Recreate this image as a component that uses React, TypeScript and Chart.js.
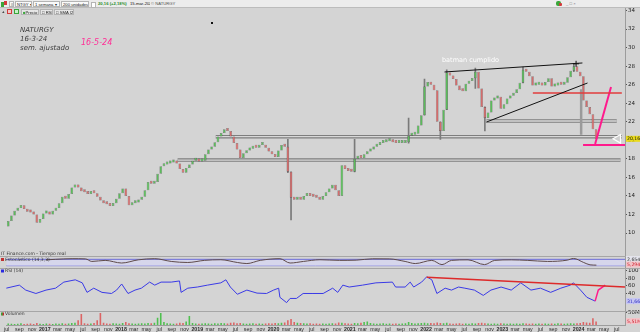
import React, { useEffect, useRef } from 'react';
import { Chart, registerables } from 'chart.js';

Chart.register(...registerables);

const FONT = '"DejaVu Sans", "Liberation Sans", sans-serif';
const AXIS_FONT = '"Liberation Sans", Arial, sans-serif';

// month index: 0 = ene-2016
const FIRST_MONTH = 6; // jul-2016, first half-month candle
const X_MIN = 5.93;
const X_MAX = 103.3;
const MONTH_NAMES = ['ene', 'feb', 'mar', 'abr', 'may', 'jun', 'jul', 'ago', 'sep', 'oct', 'nov', 'dic'];
const monthTicks = [6, 8, 10, 12, 14, 16, 18, 20, 22, 24, 26, 28, 30, 32, 34, 36, 38, 40, 42, 44, 46, 48, 50, 52, 54, 56, 58, 60, 62, 64, 66, 68, 70, 72, 74, 76, 78, 80, 82, 84, 86, 88, 90, 92, 94, 96, 98, 100, 102];
const priceTicks = [10, 12, 14, 16, 18, 20, 22, 24, 26, 28, 30, 32, 34];
const rsiTicks = [40, 60, 80, 100];
const volTicks = [50];

// semi-monthly closes (adjusted), jul-2016 .. mar-2024
const firstOpen = 10.7;
const closes = [
  11.3, 11.9, 12.4, 12.7, 13.0, 12.6, 12.3, 12.2, 12.0, 11.1,
  11.5, 12.1, 12.2, 12.0, 12.4, 12.7, 13.2, 13.9, 13.7, 14.2,
  14.9, 15.1, 14.9, 14.5, 14.4, 14.2, 14.4, 14.3, 13.9, 13.5,
  13.2, 13.1, 12.9, 13.2, 13.7, 14.3, 14.8, 14.0, 13.0, 13.2,
  13.3, 13.6, 13.9, 14.6, 15.5, 15.3, 15.5, 16.4, 17.2, 17.4,
  17.5, 17.6, 17.6, 17.5, 16.9, 16.5, 17.0, 17.4, 17.8, 17.9,
  17.7, 17.8, 18.5, 19.0, 19.3, 19.8, 20.4, 20.8, 21.2, 21.0,
  20.4, 19.7, 19.0, 18.1, 18.6, 18.9, 19.1, 19.3, 19.2, 19.5,
  19.5, 19.2, 18.8, 18.5, 18.2, 18.9, 19.5, 19.3, 16.6, 13.8,
  13.6, 13.7, 13.6, 14.0, 14.3, 14.0, 13.9, 13.8, 13.6, 14.0,
  14.4, 14.8, 15.2, 14.6, 14.0, 17.3, 16.9, 16.7, 16.6, 18.0,
  18.3, 18.1, 18.5, 18.8, 19.0, 19.3, 19.5, 19.7, 19.8, 19.9,
  20.0, 19.8, 19.7, 19.7, 19.7, 19.8, 20.5, 20.6, 20.7, 21.6,
  22.7, 25.8, 26.3, 26.0, 25.4, 22.0, 21.0, 23.3, 27.3, 27.0,
  26.6, 25.9, 25.4, 25.3, 26.1, 26.4, 26.7, 27.4, 25.6, 23.6,
  22.4, 23.0, 24.3, 24.5, 24.7, 23.4, 23.9, 24.5, 24.8, 25.1,
  25.5, 26.2, 27.6, 27.4, 26.9, 25.9, 26.0, 26.1, 25.9, 26.3,
  26.7, 25.8, 25.9, 26.2, 26.0, 26.2, 26.8, 27.5, 28.0, 27.4,
  26.9, 24.3, 23.6, 22.8, 21.2, 20.16,
];

// volume in millions, same half-months
const volumes = [
  6, 5, 4, 5, 7, 4, 5, 6, 4, 8,
  5, 4, 6, 5, 4, 6, 5, 7, 5, 6,
  8, 9, 20, 46, 7, 5, 6, 8, 20, 50,
  9, 6, 5, 7, 6, 5, 8, 12, 7, 6,
  5, 6, 7, 6, 8, 7, 9, 30, 50, 12,
  7, 6, 5, 6, 9, 8, 15, 37, 8, 6,
  5, 6, 7, 6, 5, 7, 6, 8, 7, 6,
  9, 10, 7, 8, 6, 5, 6, 7, 5, 6,
  5, 6, 7, 6, 8, 7, 9, 10, 20, 25,
  12, 9, 8, 7, 6, 7, 5, 6, 5, 6,
  5, 6, 7, 6, 10, 9, 7, 6, 5, 8,
  7, 9, 12, 15, 8, 6, 5, 6, 7, 5,
  6, 5, 6, 5, 6, 7, 12, 8, 6, 7,
  8, 9, 7, 8, 7, 10, 8, 7, 9, 6,
  5, 6, 7, 5, 6, 5, 7, 6, 8, 9,
  7, 6, 5, 6, 5, 7, 6, 5, 6, 5,
  6, 5, 7, 6, 5, 6, 5, 6, 5, 6,
  5, 6, 5, 7, 6, 5, 6, 7, 6, 7,
  8, 12, 10, 9, 28, 15,
];

// notable wicks
const wickIdx = [88, 89, 109, 126, 131, 136, 138, 147, 150, 162, 178];
const wickLow = [16.5, 11.4, 16.6, 19.7, 22.7, 20.1, 23.3, 25.6, 21.0, 26.2, 27.4];
const wickHigh = [20.1, 16.6, 20.1, 22.4, 26.6, 22.0, 27.6, 27.8, 23.6, 27.9, 28.3];

// support bands
const bandPrices = [22.08, 20.39, 17.87];
const bandStarts = [81.5, 38.9, 32.9];
const bandEnds = [102.0, 102.8, 102.6];

// drawn lines on price
const upperTrendMonths = [74.9, 96.6];
const upperTrendPrices = [27.37, 28.34];
const lowerTrendMonths = [81.5, 97.4];
const lowerTrendPrices = [21.97, 26.18];
const redLevelMonths = [88.8, 102.8];
const redLevelPrices = [25.1, 25.1];
const grayArrowMonths = [96.4, 96.4];
const grayArrowPrices = [25.5, 20.6];
const pinkFloorMonths = [96.7, 103.3];
const pinkFloorPrices = [19.5, 19.5];
const pinkRiseMonths = [98.6, 101.1];
const pinkRisePrices = [19.6, 25.75];
const crossMonth = 95.6;
const crossPrice = 28.25;
const arrowMonth = 102.2;
const batmanMonth = 74.5;
const batmanPrice = 28.6;

// stochastic
const stochMonths = [12.2, 13.7, 16.3, 18.4, 19.4, 21.5, 24.1, 26.7, 29.3, 31.9, 34.5, 37.1, 39.7, 42.3, 43.8, 45.9, 49.0, 50.6, 52.7, 55.3, 58.4, 61.0, 63.6, 66.2, 68.7, 70.3, 72.9, 74.5, 76.0, 78.6, 81.2, 82.8, 85.4, 88.0, 91.1, 94.2, 95.2, 96.8, 97.8, 98.8];
const stochValues = [75, 80, 86, 84, 60, 70, 45, 75, 86, 60, 50, 70, 76, 50, 40, 70, 86, 45, 60, 76, 70, 72, 85, 84, 60, 40, 70, 30, 70, 75, 30, 70, 75, 70, 60, 72, 88, 50, 28, 25];
const stochLevels = [80, 20];

// RSI (14)
const rsiMonths = [5.93, 8.0, 9.0, 10.6, 12.2, 13.7, 15.0, 16.8, 17.9, 18.65, 19.7, 21.0, 22.5, 23.3, 24.1, 25.1, 26.2, 27.2, 28.5, 29.3, 30.3, 31.9, 33.2, 33.45, 34.5, 36.0, 37.6, 39.7, 40.5, 41.2, 42.3, 43.8, 45.4, 46.9, 48.0, 48.8, 49.0, 50.05, 50.6, 51.6, 52.65, 54.2, 55.8, 57.3, 58.1, 58.9, 59.9, 62.0, 64.1, 66.7, 67.2, 68.7, 69.5, 70.05, 71.3, 72.1, 72.9, 73.7, 75.0, 76.0, 77.1, 78.1, 79.6, 81.0, 82.2, 83.8, 85.4, 86.9, 88.5, 90.0, 91.6, 93.2, 94.7, 95.2, 96.3, 97.3, 98.6];
const rsiValues = [54, 62, 49, 40, 49, 54, 70, 76, 68, 43, 54, 43, 40, 49, 65, 40, 49, 54, 70, 62, 70, 70, 73, 43, 54, 57, 62, 68, 76, 57, 38, 49, 41, 40, 49, 54, 30, 16, 27, 27, 40, 40, 40, 54, 43, 62, 57, 62, 68, 70, 57, 57, 70, 57, 70, 84, 76, 40, 54, 49, 57, 54, 49, 35, 49, 57, 49, 68, 49, 54, 43, 54, 62, 68, 49, 30, 20];
const rsiTrendMonths = [72.1, 103.3];
const rsiTrendValues = [83, 57];
const rsiPinkMonths = [98.6, 99.1, 100.2];
const rsiPinkValues = [20, 49, 62];

// value boxes text
const priceLastLabel = '20,16';
const stochLabels = ['2,654', '5,294'];
const rsiLastLabel = '31,66';
const volLastLabel = '5,51M';

const GREEN = '#5bbb5b';
const RED = '#d46c6c';

const opens = closes.map((c, i) => (i === 0 ? firstOpen : closes[i - 1]));
const candleX = closes.map((_, i) => FIRST_MONTH + 0.25 + i * 0.5);
const isUp = closes.map((c, i) => c >= opens[i]);

const pts = (xs: number[], ys: number[]) => xs.map((x, i) => ({ x, y: ys[i] }));

function lineDs(xs: number[], ys: number[], color: string, width: number, yAxisID: string, order: number, extra: any = {}) {
  return {
    type: 'line',
    data: pts(xs, ys),
    borderColor: color,
    borderWidth: width,
    pointRadius: 0,
    fill: false,
    tension: 0,
    xAxisID: 'x',
    yAxisID,
    order,
    ...extra,
  };
}

function valueBox(ctx: CanvasRenderingContext2D, y: number, text: string, bg: string, fg: string) {
  ctx.fillStyle = bg;
  ctx.fillRect(626, y - 3, 14, 6);
  ctx.fillStyle = fg;
  ctx.font = `4.6px ${FONT}`;
  ctx.textAlign = 'left';
  ctx.textBaseline = 'middle';
  ctx.fillText(text, 627, y + 0.3);
}

const overlayPlugin = {
  id: 'overlay',
  afterDraw(chart: any) {
    const ctx: CanvasRenderingContext2D = chart.ctx;
    const sx = chart.scales.x;
    const sy = chart.scales.y;
    const ss = chart.scales.yStoch;
    const sr = chart.scales.yRsi;
    const sv = chart.scales.yVol;
    ctx.save();
    // pane separators
    ctx.strokeStyle = '#a6a6a6';
    ctx.lineWidth = 1;
    [ss.top, sr.top, sv.top].forEach((t: number) => {
      const yy = Math.round(t) + 0.5;
      ctx.beginPath();
      ctx.moveTo(0, yy);
      ctx.lineTo(640, yy);
      ctx.stroke();
    });

    // title block
    ctx.textAlign = 'left';
    ctx.textBaseline = 'middle';
    ctx.fillStyle = '#3c3c3c';
    ctx.font = `italic 7px ${FONT}`;
    ctx.fillText('NATURGY', 20, 30);
    ctx.fillText('16-3-24', 20, 39.5);
    ctx.fillText('sem. ajustado', 20, 48.5);
    ctx.fillStyle = '#ff2d95';
    ctx.font = `italic 8px ${FONT}`;
    ctx.fillText('16-5-24', 81, 42.5);

    // annotation
    ctx.fillStyle = '#ffffff';
    ctx.font = `6.5px ${FONT}`;
    ctx.fillText('batman cumplido', sx.getPixelForValue(batmanMonth), sy.getPixelForValue(batmanPrice));

    // pane captions
    ctx.font = `4.5px ${FONT}`;
    ctx.fillStyle = '#333';
    ctx.fillText('IT Finance.com - Tiempo real', 1, ss.top - 2);
    ctx.fillStyle = '#c03030';
    ctx.fillRect(1, ss.top + 2, 3, 3);
    ctx.fillStyle = '#333';
    ctx.fillText('Estocástico (14,3,3)', 5, ss.top + 3.6);
    ctx.fillStyle = '#2a2ae0';
    ctx.fillRect(1, sr.top + 1.5, 3, 3);
    ctx.fillStyle = '#333';
    ctx.fillText('RSI (14)', 5, sr.top + 3.2);
    ctx.fillStyle = '#3aa63a';
    ctx.fillRect(1, sv.top + 1.5, 2, 3);
    ctx.fillStyle = '#c03030';
    ctx.fillRect(2.5, sv.top + 1.5, 1.5, 3);
    ctx.fillStyle = '#333';
    ctx.fillText('Volumen', 5, sv.top + 3.2);

    // value boxes on the right axis
    valueBox(ctx, sy.getPixelForValue(closes[closes.length - 1]), priceLastLabel, '#eadb1c', '#111');
    valueBox(ctx, ss.top + 3, stochLabels[0], '#e4e4ec', '#333');
    valueBox(ctx, ss.top + 8.5, stochLabels[1], '#f2c4c8', '#d02030');
    valueBox(ctx, sr.getPixelForValue(rsiValues[rsiValues.length - 1]), rsiLastLabel, '#c6c6f2', '#2a2ac0');
    valueBox(ctx, sv.bottom - 4, volLastLabel, '#f2c4c8', '#d02030');
    ctx.restore();
  },
};

function Box(props: { left: number; top: number; width: number; children?: any; color?: string; bold?: boolean; bg?: string; border?: boolean }) {
  return (
    <span
      style={{
        position: 'absolute',
        left: props.left,
        top: props.top,
        width: props.width,
        height: 6,
        boxSizing: 'border-box',
        background: props.bg || 'transparent',
        border: props.border ? '1px solid #b4b4b4' : 'none',
        fontSize: 4.2,
        lineHeight: '5px',
        fontFamily: AXIS_FONT,
        fontWeight: props.bold ? 700 : 400,
        color: props.color || '#222',
        whiteSpace: 'nowrap',
        overflow: 'hidden',
        paddingLeft: 1,
      }}
    >
      {props.children}
    </span>
  );
}

function Toolbar() {
  return (
    <>
      <div style={{ position: 'absolute', left: 0, top: 0, width: 640, height: 8, background: '#ececec', borderBottom: '1px solid #bcbcbc', boxSizing: 'border-box' }} />
      <span style={{ position: 'absolute', left: 1, top: 2, width: 3, height: 5, background: '#3aa63a' }} />
      <span style={{ position: 'absolute', left: 4, top: 1, width: 3, height: 4, background: '#d23a3a' }} />
      <Box left={9} top={1} width={5} bg="#f8f8f8" border>≡</Box>
      <Box left={15} top={1} width={17} bg="#fafafa" border>NTGY ▾</Box>
      <Box left={33} top={1} width={27} bg="#fafafa" border>1 semana ▾</Box>
      <Box left={61} top={1} width={28} bg="#fafafa" border>200 unidades ▾</Box>
      <Box left={91} top={1.5} width={5} bg="#ffffff" border />
      <Box left={97} top={1} width={32} color="#2a8a2a" bold>20,16 (+2,18%)</Box>
      <Box left={129} top={1} width={21} color="#111">15-mar-2024</Box>
      <Box left={150} top={1} width={32} color="#555">© NATURGY</Box>
      <span style={{ position: 'absolute', left: 556, top: 1, width: 5, height: 5, background: '#3aa63a', borderRadius: 2 }} />
      <span style={{ position: 'absolute', left: 559, top: 3, width: 3, height: 3, background: '#d23a3a', borderRadius: 1 }} />
      <Box left={565} top={1} width={16} color="#777">_ □ ×</Box>
      <Box left={1} top={9} width={5} color="#111" bold>+</Box>
      <span style={{ position: 'absolute', left: 7, top: 9, width: 5, height: 5, background: '#f0c8c8', border: '1px solid #d23a3a', boxSizing: 'border-box' }} />
      <span style={{ position: 'absolute', left: 14, top: 9, width: 5, height: 5, background: '#c8f0c8', border: '1px solid #3aa63a', boxSizing: 'border-box' }} />
      <Box left={21} top={9} width={18} bg="#e6e6e6" border><span style={{ color: '#3aa63a' }}>■</span>Precio</Box>
      <Box left={40} top={9} width={13} bg="#e6e6e6" border>□ RSP</Box>
      <Box left={54} top={9} width={20} bg="#e6e6e6" border>□ SMA (20)</Box>
      <span style={{ position: 'absolute', left: 211, top: 22, width: 1.5, height: 1.5, background: '#111' }} />
    </>
  );
}

export default function App() {
  const ref = useRef<HTMLCanvasElement | null>(null);

  useEffect(() => {
    const canvas = ref.current;
    if (!canvas) return;

    const datasets: any[] = [
      // drawn annotations (top)
      lineDs(upperTrendMonths, upperTrendPrices, '#111111', 1, 'y', 0),
      lineDs(lowerTrendMonths, lowerTrendPrices, '#111111', 1, 'y', 0),
      lineDs(redLevelMonths, redLevelPrices, '#e23c3c', 1.5, 'y', 0),
      lineDs(pinkFloorMonths, pinkFloorPrices, '#ff1a8c', 2, 'y', 0),
      lineDs(pinkRiseMonths, pinkRisePrices, '#ff1a8c', 2, 'y', 0),
      lineDs(grayArrowMonths, grayArrowPrices, '#9a9a9a', 2.5, 'y', 1),
      {
        type: 'line',
        data: [{ x: crossMonth, y: crossPrice }],
        showLine: false,
        pointStyle: 'cross',
        pointRadius: 3,
        pointBorderColor: '#111',
        pointBorderWidth: 1,
        xAxisID: 'x',
        yAxisID: 'y',
        order: 0,
      },
      {
        type: 'line',
        data: [{ x: arrowMonth, y: closes[closes.length - 1] }],
        showLine: false,
        pointStyle: 'triangle',
        pointRotation: -90,
        pointRadius: 5,
        pointBackgroundColor: '#d0d0d0',
        pointBorderColor: '#ffffff',
        pointBorderWidth: 1.2,
        xAxisID: 'x',
        yAxisID: 'y',
        order: 0,
      },
      // candles
      {
        type: 'bar',
        data: closes.map((c, i) => ({ x: candleX[i], y: [opens[i], c] })),
        backgroundColor: closes.map((_, i) => (isUp[i] ? GREEN : RED)),
        borderColor: 'rgba(25,25,25,0.6)',
        borderWidth: 0.5,
        borderSkipped: false,
        minBarLength: 3,
        barPercentage: 0.82,
        categoryPercentage: 1,
        grouped: false,
        xAxisID: 'x',
        yAxisID: 'y',
        order: 2,
      },
      {
        type: 'bar',
        data: wickIdx.map((idx, k) => ({ x: candleX[idx], y: [wickLow[k], wickHigh[k]] })),
        backgroundColor: '#7a7a7a',
        barThickness: 1,
        grouped: false,
        xAxisID: 'x',
        yAxisID: 'y',
        order: 3,
      },
      // bands
      ...bandPrices.map((p, k) => lineDs([bandStarts[k], bandEnds[k]], [p, p], '#d8d8d8', 1.3, 'y', 4)),
      ...bandPrices.map((p, k) => lineDs([bandStarts[k], bandEnds[k]], [p, p], '#7e7e7e', 3.6, 'y', 5)),
      // stochastic
      lineDs([X_MIN, X_MAX], [stochLevels[0], stochLevels[0]], '#6c6cd8', 1, 'yStoch', 5, {
        fill: { value: stochLevels[1] },
        backgroundColor: 'rgba(214,214,238,0.85)',
      }),
      lineDs([X_MIN, X_MAX], [stochLevels[1], stochLevels[1]], '#6c6cd8', 1, 'yStoch', 5),
      lineDs(stochMonths, stochValues, '#5e4a4a', 1, 'yStoch', 1, { cubicInterpolationMode: 'monotone' }),
      // RSI
      lineDs(rsiTrendMonths, rsiTrendValues, '#dd2a2a', 1.5, 'yRsi', 0),
      lineDs(rsiPinkMonths, rsiPinkValues, '#ff1a8c', 1.5, 'yRsi', 0),
      lineDs(rsiMonths, rsiValues, '#3a3ae6', 1, 'yRsi', 1),
      // volume
      {
        type: 'bar',
        data: volumes.map((v, i) => ({ x: candleX[i], y: v })),
        backgroundColor: volumes.map((_, i) => (isUp[i] ? '#4fc04f' : '#dc6464')),
        borderWidth: 0,
        barPercentage: 0.5,
        categoryPercentage: 1,
        grouped: false,
        xAxisID: 'x',
        yAxisID: 'yVol',
        order: 2,
      },
    ];

    const yAxisCommon = (weight: number, min: number, max: number, ticks: number[], fmt: (v: number) => string, showTicks = true) => ({
      type: 'linear',
      position: 'right',
      stack: 'panes',
      stackWeight: weight,
      min,
      max,
      offset: false,
      beginAtZero: false,
      grid: { display: true, drawOnChartArea: false, drawTicks: showTicks, tickLength: 2, color: '#555' },
      border: { display: true, color: '#9c9c9c' },
      ticks: {
        display: showTicks,
        autoSkip: false,
        padding: 1,
        color: '#222',
        font: { size: 5.5, family: FONT },
        callback: (v: any) => fmt(Number(v)),
      },
      afterBuildTicks: (sc: any) => {
        sc.ticks = ticks.map((v) => ({ value: v }));
      },
      afterFit: (sc: any) => {
        sc.width = 15;
        sc.paddingTop = 0;
        sc.paddingBottom = 0;
      },
    });

    const chart = new Chart(canvas, {
      type: 'bar',
      data: { datasets },
      plugins: [overlayPlugin],
      options: {
        responsive: false,
        animation: false,
        devicePixelRatio: 1,
        layout: { padding: { top: 8, left: 0, right: 0, bottom: 0 } },
        plugins: { legend: { display: false }, tooltip: { enabled: false } },
        elements: { point: { radius: 0 } },
        scales: {
          x: {
            type: 'linear',
            position: 'bottom',
            min: X_MIN,
            max: X_MAX,
            offset: false,
            grid: { display: false, drawTicks: false, tickLength: 0 },
            border: { display: true, color: '#9c9c9c' },
            ticks: {
              autoSkip: false,
              maxRotation: 0,
              padding: 1,
              color: '#2a2a2a',
              font: (c: any) => {
                const m = c.tick ? c.tick.value : 0;
                return { size: 5.3, family: AXIS_FONT, weight: m % 12 === 0 ? 'bold' : 'normal' };
              },
              callback: (v: any) => {
                const m = Math.round(Number(v));
                const mo = ((m % 12) + 12) % 12;
                return mo === 0 ? String(2016 + Math.floor(m / 12)) : MONTH_NAMES[mo];
              },
            },
            afterBuildTicks: (sc: any) => {
              sc.ticks = monthTicks.map((v) => ({ value: v }));
            },
            afterFit: (sc: any) => {
              sc.height = 7;
              sc.paddingLeft = 0;
              sc.paddingRight = 0;
            },
          },
          y: yAxisCommon(248, 7.52, 34.27, priceTicks, (v) => String(v)),
          yStoch: yAxisCommon(12, -1.9, 111.3, [], (v) => String(v), false),
          yRsi: yAxisCommon(43, -6.05, 107.1, rsiTicks, (v) => String(v)),
          yVol: yAxisCommon(14, 0, 58.3, volTicks, (v) => `${v}M`),
        },
      } as any,
    } as any);

    return () => chart.destroy();
  }, []);

  return (
    <div
      style={{
        position: 'absolute',
        left: 0,
        top: 0,
        width: 640,
        height: 332,
        background: '#d4d4d4',
        overflow: 'hidden',
        fontFamily: FONT,
      }}
    >
      <canvas ref={ref} width={640} height={332} style={{ position: 'absolute', left: 0, top: 0, width: 640, height: 332 }} />
      <Toolbar />
    </div>
  );
}
